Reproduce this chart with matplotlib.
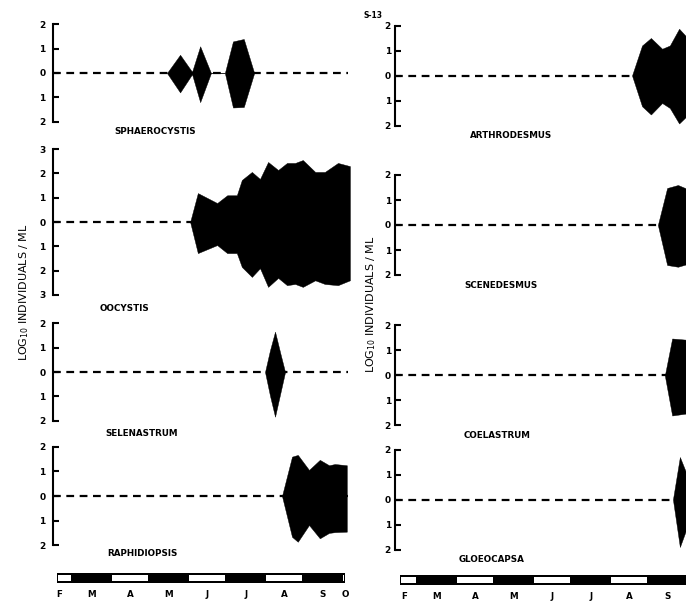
import matplotlib
matplotlib.use("Agg")
import matplotlib.pyplot as plt

# x in months: 3.0 = 1 March, 10.0 = 1 October
# kite values are log10 individuals / ml, drawn above (hi) and below (lo) the line

sphaer_x = [5.46, 5.80, 6.11, 6.32, 6.60, 6.96, 7.17, 7.45, 7.72]
sphaer_hi = [0, 0.75, 0.05, 1.1, 0, 0, 1.3, 1.4, 0]
sphaer_lo = [0, -0.8, -0.05, -1.2, 0, 0, -1.42, -1.4, 0]

ooc_x = [6.06, 6.26, 6.76, 7.02, 7.27, 7.40, 7.66, 7.87, 8.08, 8.34, 8.57,
         8.78, 8.98, 9.30, 9.55, 9.89, 10.20]
ooc_hi = [0, 1.19, 0.78, 1.1, 1.1, 1.73, 2.06, 1.77, 2.47, 2.14, 2.43,
          2.43, 2.55, 2.06, 2.06, 2.43, 2.3]
ooc_lo = [0, -1.28, -0.95, -1.28, -1.28, -1.85, -2.26, -1.9, -2.67, -2.3, -2.6,
          -2.55, -2.67, -2.4, -2.55, -2.6, -2.4]

sel_x = [8.0, 8.13, 8.26, 8.40, 8.52]
sel_hi = [0, 0.9, 1.66, 0.75, 0]
sel_lo = [0, -0.98, -1.84, -0.85, 0]

raph_x = [8.44, 8.70, 8.85, 9.14, 9.42, 9.66, 9.81, 10.12]
raph_hi = [0, 1.6, 1.67, 1.06, 1.47, 1.25, 1.3, 1.25]
raph_lo = [0, -1.66, -1.86, -1.18, -1.72, -1.5, -1.47, -1.45]

arth_x = [8.57, 8.83, 9.06, 9.35, 9.55, 9.79, 10.07]
arth_hi = [0, 1.2, 1.5, 1.07, 1.2, 1.87, 1.4]
arth_lo = [0, -1.23, -1.56, -1.1, -1.3, -1.92, -1.5]

scen_x = [9.24, 9.48, 9.76, 10.07]
scen_hi = [0, 1.48, 1.6, 1.4]
scen_lo = [0, -1.6, -1.67, -1.53]

coel_x = [9.42, 9.61, 10.07]
coel_hi = [0, 1.48, 1.42]
coel_lo = [0, -1.6, -1.5]

gloe_x = [9.63, 9.81, 10.07]
gloe_hi = [0, 1.7, 0.7]
gloe_lo = [0, -1.9, -0.8]

month_starts = [2, 3, 4, 5, 6, 7, 8, 9, 10]
month_labels = ["F", "M", "A", "M", "J", "J", "A", "S", "O"]
month_label_pos = [2.68, 3.5, 4.5, 5.5, 6.5, 7.5, 8.5, 9.5, 10.07]

W, H = 686, 604
PX_PER_MONTH = 38.6
fig = plt.figure(figsize=(W / 100, H / 100), dpi=100, facecolor="white")

# x3 = pixel of 1 March in each column; the right column runs off the page
columns = {
    "left": dict(x3=72, xmin=2.5, xmax=10.2, line_end=10.15, pad=5,
                 bar=(573, 583, 2.61, 10.08), n_labels=9),
    "right": dict(x3=417, xmin=2.43, xmax=10.2, line_end=10.2, pad=3,
                  bar=(575, 585, 2.56, 10.2), n_labels=8),
}


def add_px_axes(x0, x1, y_top, y_bot):
    return fig.add_axes([x0 / W, 1 - y_bot / H, (x1 - x0) / W, (y_bot - y_top) / H])


def col_axes(col, y_top, y_bot):
    c = columns[col]
    x0 = c["x3"] + (c["xmin"] - 3) * PX_PER_MONTH
    x1 = c["x3"] + (c["xmax"] - 3) * PX_PER_MONTH
    ax = add_px_axes(x0, x1, y_top, y_bot)
    ax.set_xlim(c["xmin"], c["xmax"])
    ax.patch.set_visible(False)
    return ax


def kite_panel(col, name, x, hi, lo, zero, scale, ymax, label_xy):
    c = columns[col]
    ax = col_axes(col, zero - ymax * scale, zero + ymax * scale)
    ax.set_ylim(-ymax, ymax)
    for s in ("top", "right", "bottom"):
        ax.spines[s].set_visible(False)
    ax.spines["left"].set_linewidth(1.5)
    ax.set_xticks([])
    ticks = list(range(-ymax, ymax + 1))
    ax.set_yticks(ticks, [str(abs(t)) for t in ticks])
    ax.tick_params(axis="y", direction="in", length=4.5, width=1.5,
                   pad=c["pad"], labelsize=6.5)
    for lab in ax.get_yticklabels():
        lab.set_fontweight("bold")
    ax.plot([c["xmin"], c["line_end"]], [0, 0], color="black", lw=1.6,
            dashes=(3.5, 2.5), zorder=1, clip_on=False)
    ax.fill_between(x, lo, hi, color="black", lw=0.3, zorder=2, clip_on=False)
    fig.text(label_xy[0] / W, 1 - label_xy[1] / H, name, ha="center",
             va="center", fontsize=6.3, fontweight="bold")


def month_bar(col, label_y):
    c = columns[col]
    y_top, y_bot, start, end = c["bar"]
    ax = col_axes(col, y_top, y_bot)
    ax.set_ylim(0, 1)
    for s in ax.spines.values():
        s.set_visible(False)
    ax.set_yticks([])
    ax.barh(0.5, end - start, left=start, height=1, color="black", lw=0)
    for i, m in enumerate(month_starts):
        if i % 2:
            continue
        lo, hi = max(m, start) + 0.03, min(m + 1, end) - 0.03
        if hi > lo:
            ax.barh(0.52, hi - lo, left=lo, height=0.6, color="white", lw=0)
    n = c["n_labels"]
    ax.set_xticks(month_label_pos[:n], month_labels[:n])
    ax.tick_params(axis="x", length=0, pad=(label_y - y_bot - 3) * 0.72,
                   labelsize=6.3)
    for lab in ax.get_xticklabels():
        lab.set_fontweight("bold")


kite_panel("left", "SPHAEROCYSTIS", sphaer_x, sphaer_hi, sphaer_lo, 73, 24.3, 2, (155, 132))
kite_panel("left", "OOCYSTIS", ooc_x, ooc_hi, ooc_lo, 222, 24.3, 3, (124, 308))
kite_panel("left", "SELENASTRUM", sel_x, sel_hi, sel_lo, 372, 24.3, 2, (142, 434))
kite_panel("left", "RAPHIDIOPSIS", raph_x, raph_hi, raph_lo, 496, 24.6, 2, (142, 553))

kite_panel("right", "ARTHRODESMUS", arth_x, arth_hi, arth_lo, 75.5, 25, 2, (511, 136))
kite_panel("right", "SCENEDESMUS", scen_x, scen_hi, scen_lo, 225, 25, 2, (501, 285))
kite_panel("right", "COELASTRUM", coel_x, coel_hi, coel_lo, 375.5, 25, 2, (497, 435))
kite_panel("right", "GLOEOCAPSA", gloe_x, gloe_hi, gloe_lo, 499.5, 25, 2, (492, 559))

month_bar("left", 593)
month_bar("right", 595)

ylab = "LOG$_{10}$ INDIVIDUALS / ML"
fig.text(24 / W, 1 - 292 / H, ylab, rotation=90, ha="center", va="center", fontsize=8)
fig.text(371 / W, 1 - 304 / H, ylab, rotation=90, ha="center", va="center", fontsize=8)
fig.text(373 / W, 1 - 15 / H, "S-13", ha="center", va="center", fontsize=5.5,
         fontweight="bold")

fig.savefig("out.png", dpi=100, facecolor="white")
